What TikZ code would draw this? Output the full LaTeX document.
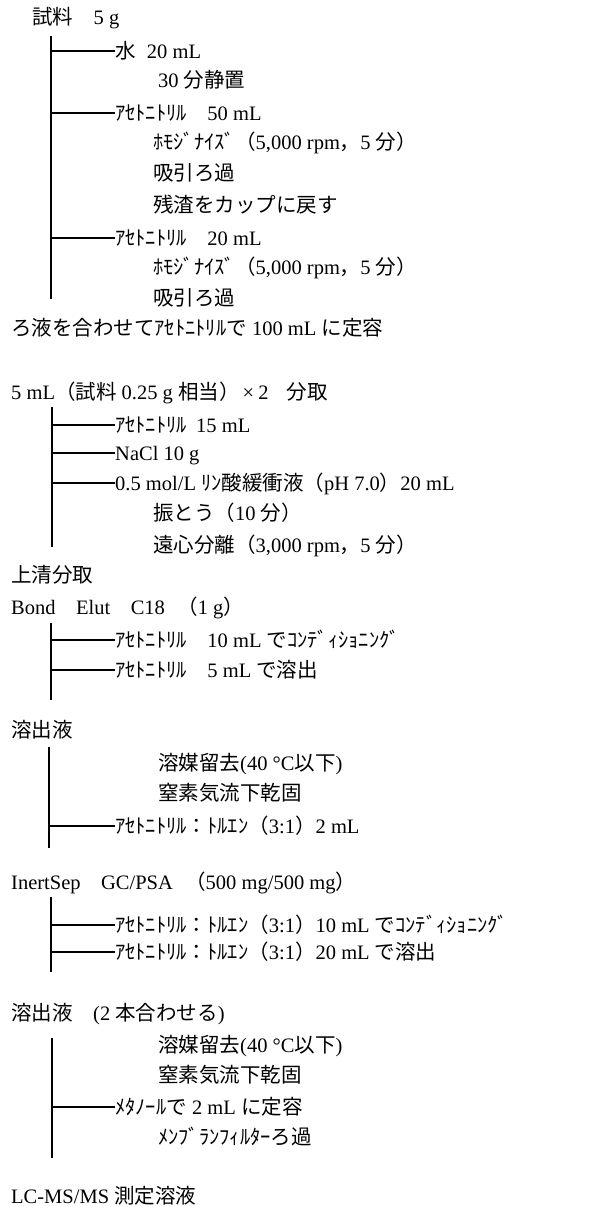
\documentclass[tikz,border=0pt]{standalone}
\usepackage{fontspec}
\setmainfont{Liberation Serif}
\newfontfamily\jp{Noto Sans CJK JP}
\newcommand\J[1]{{\jp #1}}
\begin{document}
\begin{tikzpicture}[x=1pt,y=-1pt,
  every node/.style={inner sep=0pt, anchor=west, font=\fontsize{20.5}{24}\selectfont, text height=18pt, text depth=3pt},
  line/.style={line width=1.6pt}]
\useasboundingbox (0,0) rectangle (595,1206);

% ---- block 1
\node (h1) at (32,17) {\J{試料　}5 g};
\coordinate (s1t) at (51,36);
\coordinate (s1b) at (51,299);
\draw[line] (s1t) -- (s1b);
\node (a1) at (115,51) {\J{水}\hspace{0.55em}20 mL};
\node (a2) at (158,80) {30 \J{分静置}};
\node (a3) at (115,113) {\J{ｱｾﾄﾆﾄﾘﾙ　}50 mL};
\node (a4) at (153,142) {\J{ﾎﾓｼﾞﾅｲｽﾞ（}5,000 rpm\J{，}5 \J{分）}};
\node (a5) at (153,173) {\J{吸引ろ過}};
\node (a6) at (153,205) {\J{残渣をカップに戻す}};
\node (a7) at (115,238) {\J{ｱｾﾄﾆﾄﾘﾙ　}20 mL};
\node (a8) at (153,267) {\J{ﾎﾓｼﾞﾅｲｽﾞ（}5,000 rpm\J{，}5 \J{分）}};
\node (a9) at (153,298) {\J{吸引ろ過}};
\foreach \n in {a1,a3,a7} \draw[line] (s1t |- \n.west) -- (\n.west);
\node (h2) at (11,328) {\J{ろ液を合わせてｱｾﾄﾆﾄﾘﾙで} 100 mL \J{に定容}};

% ---- block 2
\node (h3) at (11,392) {5 mL\J{（試料} 0.25 g \J{相当）}\hspace{0.15em}×\hspace{0.2em}2\hspace{0.9em}\J{分取}};
\coordinate (s2t) at (52,407);
\coordinate (s2b) at (52,547);
\draw[line] (s2t) -- (s2b);
\node (b1) at (115,425) {\J{ｱｾﾄﾆﾄﾘﾙ}\hspace{0.45em}15 mL};
\node (b2) at (115,453) {NaCl 10 g};
\node (b3) at (115,483) {0.5 mol/L \J{ﾘﾝ酸緩衝液（}pH 7.0\J{）}20 mL};
\node (b4) at (153,513) {\J{振とう（}10 \J{分）}};
\node (b5) at (153,545) {\J{遠心分離（}3,000 rpm\J{，}5 \J{分）}};
\foreach \n in {b1,b2,b3} \draw[line] (s2t |- \n.west) -- (\n.west);
\node (h4) at (11,575) {\J{上清分取}};

% ---- block 3
\node (h5) at (11,607) {Bond\J{　}Elut\J{　}C18\hspace{0.6em}\J{（}1 g\J{）}};
\coordinate (s3t) at (51,623);
\coordinate (s3b) at (51,700);
\draw[line] (s3t) -- (s3b);
\node (c1) at (115,640) {\J{ｱｾﾄﾆﾄﾘﾙ　}10 mL \J{でｺﾝﾃﾞｨｼｮﾆﾝｸﾞ}};
\node (c2) at (115,670) {\J{ｱｾﾄﾆﾄﾘﾙ　}5 mL \J{で溶出}};
\foreach \n in {c1,c2} \draw[line] (s3t |- \n.west) -- (\n.west);

% ---- block 4
\node (h6) at (11,730) {\J{溶出液}};
\coordinate (s4t) at (49,747);
\coordinate (s4b) at (49,848);
\draw[line] (s4t) -- (s4b);
\node (d1) at (158,763) {\J{溶媒留去}(40 °C\J{以下})};
\node (d2) at (158,793) {\J{窒素気流下乾固}};
\node (d3) at (115,826) {\J{ｱｾﾄﾆﾄﾘﾙ：ﾄﾙｴﾝ（}3:1\J{）}2 mL};
\draw[line] (s4t |- d3.west) -- (d3.west);

% ---- block 5
\node (h7) at (11,882) {InertSep\J{　}GC/PSA\hspace{0.6em}\J{（}500 mg/500 mg\J{）}};
\coordinate (s5t) at (51,897);
\coordinate (s5b) at (51,972);
\draw[line] (s5t) -- (s5b);
\node (e1) at (115,925) {\J{ｱｾﾄﾆﾄﾘﾙ：ﾄﾙｴﾝ（}3:1\J{）}10 mL \J{でｺﾝﾃﾞｨｼｮﾆﾝｸﾞ}};
\node (e2) at (115,952) {\J{ｱｾﾄﾆﾄﾘﾙ：ﾄﾙｴﾝ（}3:1\J{）}20 mL \J{で溶出}};
\foreach \n in {e1,e2} \draw[line] (s5t |- \n.west) -- (\n.west);

% ---- block 6
\node (h8) at (11,1013) {\J{溶出液　}(2 \J{本合わせる})};
\coordinate (s6t) at (52,1038);
\coordinate (s6b) at (52,1158);
\draw[line] (s6t) -- (s6b);
\node (f1) at (158,1045) {\J{溶媒留去}(40 °C\J{以下})};
\node (f2) at (158,1075) {\J{窒素気流下乾固}};
\node (f3) at (115,1107) {\J{ﾒﾀﾉｰﾙで} 2 mL \J{に定容}};
\node (f4) at (158,1137) {\J{ﾒﾝﾌﾞﾗﾝﾌｨﾙﾀｰろ過}};
\draw[line] (s6t |- f3.west) -- (f3.west);
\node (h9) at (11,1196) {LC-MS/MS \J{測定溶液}};
\end{tikzpicture}
\end{document}
